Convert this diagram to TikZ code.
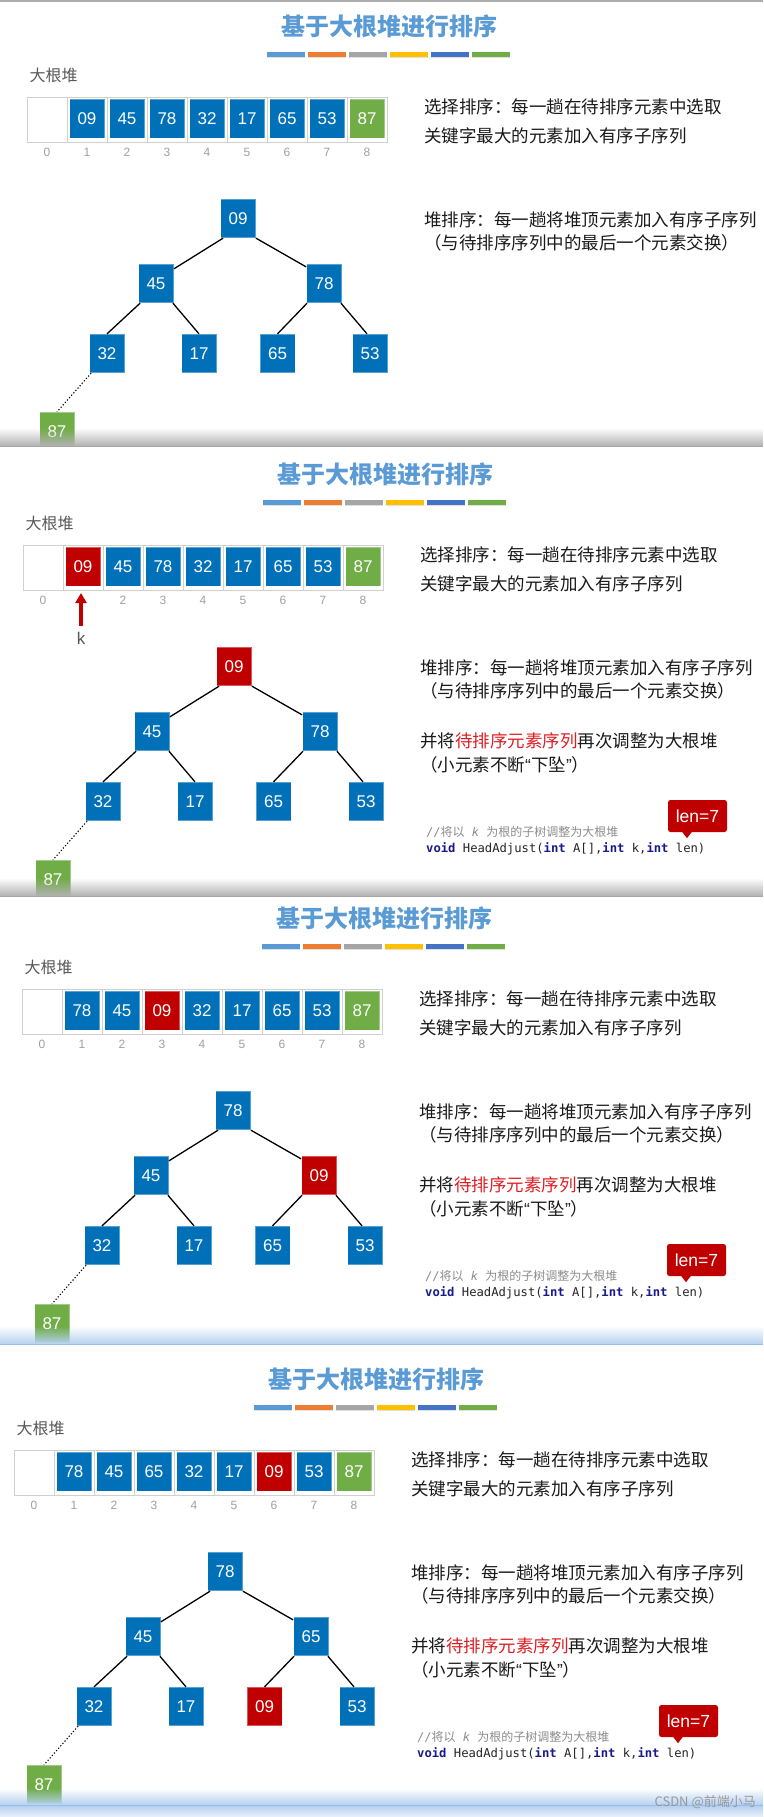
\documentclass[tikz,border=0pt]{standalone}
\usepackage{fontspec}
\setmainfont{Liberation Sans}
\setmonofont{DejaVu Sans Mono}
\newfontfamily\cjk{Noto Sans CJK SC}
\newfontfamily\latq{Liberation Sans}
\usetikzlibrary{arrows.meta,fadings}
\definecolor{hblue}{RGB}{0,112,184}
\definecolor{hred}{RGB}{192,0,0}
\definecolor{hgreen}{RGB}{112,173,71}
\definecolor{titleblue}{RGB}{91,155,213}
\definecolor{barorange}{RGB}{237,125,49}
\definecolor{bargray}{RGB}{165,165,165}
\definecolor{baryellow}{RGB}{255,192,0}
\definecolor{bardblue}{RGB}{68,114,196}
\definecolor{idxgray}{RGB}{160,160,160}
\definecolor{labgray}{RGB}{89,89,89}
\definecolor{txt}{RGB}{26,26,26}
\definecolor{hitxt}{RGB}{220,30,35}
\definecolor{kw}{RGB}{25,25,140}
\definecolor{cmt}{RGB}{140,140,140}
\definecolor{gridc}{RGB}{208,208,208}
\definecolor{sepblue}{RGB}{150,190,235}

\newcommand\hpbase[1]{%
  \node[titlef] (#1-title) at (362,-71) {基于大根堆进行排序};
  \foreach \i/\cl in {0/titleblue,1/barorange,2/bargray,3/baryellow,4/bardblue,5/hgreen}{
    \fill[black!12] (240+41*\i,-40) rectangle ++(37.5,1.2);
    \fill[\cl] (240+41*\i,-45) rectangle ++(37.5,5);
  }
  \node[labf] (#1-lab) at (2.5,-22) {大根堆};
  \draw[gridl] (0,0) rectangle (360,45);
  \foreach \i in {1,...,8} \draw[gridl] (40*\i,0) -- (40*\i,45);
  \node[txtf] (#1-s1) at (397,10) {选择排序：每一趟在待排序元素中选取};
  \node[txtf] (#1-s2) at (397,38.5) {关键字最大的元素加入有序子序列};
  \node[txtf] (#1-h1) at (397,122.5) {堆排序：每一趟将堆顶元素加入有序子序列};
  \node[txtf] (#1-h2) at (397,146) {（与待排序序列中的最后一个元素交换）};
}
\newcommand\hpextra[1]{%
  \node[txtf] (#1-b1) at (397,196) {并将\textcolor{hitxt}{待排序元素序列}再次调整为大根堆};
  \node[txtf] (#1-b2) at (397,219.5) {（小元素不断{\latq “}下坠{\latq ”}）};
  \node[cmtf] (#1-cm) at (403,287) {//{\cjk 将以} \textit{k} {\cjk 为根的子树调整为大根堆}};
  \node[codef] (#1-code) at (403,304) {\textcolor{kw}{\bfseries void} HeadAdjust(\textcolor{kw}{\bfseries int} A[],\textcolor{kw}{\bfseries int} k,\textcolor{kw}{\bfseries int} len)};
  \node[lenbox] (#1-len) at (674.5,271) {len=7};
  \fill[hred] ([xshift=-15.5pt,yshift=0.5pt]#1-len.south) -- ([xshift=-10.5pt,yshift=-6pt]#1-len.south) -- ([xshift=-5.5pt,yshift=0.5pt]#1-len.south) -- cycle;
}
\newcommand\hpidx[2]{\foreach \i in {#2} \node[idxf] (#1-i\i) at (40*\i+20,55) {\i};}
\newcommand\hparr[2]{\foreach \i/\cl/\v in {#2} \node[abox,\cl] (#1-a\i) at (40*\i+20,21.5) {\v};}
\newcommand\hptree[2]{%
  \begin{scope}[shift={(211,121.5)}]
    \foreach \i/\x/\y/\cl/\v in {#2} \node[tbox,\cl] (#1-t\i) at (\x,\y) {\v};
  \end{scope}
  \draw[tedge] ([xshift=3pt]#1-t1.south west) -- ([yshift=-5pt]#1-t2.north east);
  \draw[tedge] (#1-t1.south east) -- ([yshift=-3pt]#1-t3.north west);
  \draw[tedge] ([xshift=2pt]#1-t2.south west) -- (#1-t4.north);
  \draw[tedge] ([xshift=-1pt]#1-t2.south east) -- (#1-t5.north);
  \draw[tedge] ([xshift=1pt]#1-t3.south west) -- (#1-t6.north);
  \draw[tedge] ([xshift=-1pt]#1-t3.south east) -- ([xshift=-3pt]#1-t7.north);
  \draw[dotedge] ([xshift=2pt]#1-t4.south west) -- (#1-t8.north);
}

\begin{document}
\begin{tikzpicture}[x=1pt,y=-1pt,
  titlef/.style={inner sep=0pt, text=titleblue, font=\cjk\bfseries\fontsize{24}{26}\selectfont},
  txtf/.style={anchor=west, inner sep=0pt, text=txt, font=\cjk\fontsize{17.5}{20}\selectfont},
  labf/.style={anchor=west, inner sep=0pt, text=labgray, font=\cjk\fontsize{16}{18}\selectfont},
  idxf/.style={inner sep=0pt, text=idxgray, font=\fontsize{12}{14}\selectfont},
  cmtf/.style={anchor=west, inner sep=0pt, text=cmt, font=\ttfamily\fontsize{12}{14}\selectfont},
  codef/.style={anchor=west, inner sep=0pt, text=black!85, font=\ttfamily\fontsize{12.2}{14}\selectfont},
  gridl/.style={draw=gridc, line width=0.8pt},
  tbox/.style={rectangle, minimum width=35pt, minimum height=38.5pt, inner sep=0pt, text=white, draw=white, draw opacity=0.35, line width=0.8pt, font=\fontsize{17}{17}\selectfont},
  abox/.style={rectangle, minimum width=35pt, minimum height=39pt, inner sep=0pt, text=white, draw=white, draw opacity=0.35, line width=0.8pt, font=\fontsize{17}{17}\selectfont},
  cb/.style={fill=hblue}, cr/.style={fill=hred}, cg/.style={fill=hgreen},
  tedge/.style={draw=black, line width=1.3pt},
  dotedge/.style={draw=black, line width=1.1pt, dash pattern=on 1.2pt off 2pt},
  lenbox/.style={rectangle, rounded corners=2.5pt, fill=hred, text=white, minimum width=59pt, minimum height=32pt, inner sep=0pt, font=\fontsize{17.5}{18}\selectfont},
  kf/.style={inner sep=0pt, text=labgray, font=\fontsize{17}{18}\selectfont},
  wmf/.style={anchor=east, inner sep=0pt, text=black!40, font=\cjk\fontsize{13}{14}\selectfont}
]
\useasboundingbox (0,0) rectangle (763,1817);
\fill[white] (0,0) rectangle (763,1817);

% ---------- Panel 1 ----------
\begin{scope}
\clip (0,0) rectangle (763,446);
\begin{scope}[shift={(27,97)}]
  \hpbase{P1}
  \hpidx{P1}{0,...,8}
  \hparr{P1}{1/cb/09,2/cb/45,3/cb/78,4/cb/32,5/cb/17,6/cb/65,7/cb/53,8/cg/87}
  \hptree{P1}{1/0/0/cb/09,2/-82/65/cb/45,3/86/65/cb/78,4/-131/135/cb/32,5/-39/135/cb/17,6/39.5/135/cb/65,7/132/135/cb/53,8/-181/213/cg/87}
\end{scope}
\end{scope}

% ---------- Panel 2 ----------
\begin{scope}
\clip (0,447) rectangle (763,896);
\begin{scope}[shift={(23,545)}]
  \hpbase{P2}
  \hpidx{P2}{0,2,3,4,5,6,7,8}
  \hparr{P2}{1/cr/09,2/cb/45,3/cb/78,4/cb/32,5/cb/17,6/cb/65,7/cb/53,8/cg/87}
  \hptree{P2}{1/0/0/cr/09,2/-82/65/cb/45,3/86/65/cb/78,4/-131/135/cb/32,5/-39/135/cb/17,6/39.5/135/cb/65,7/132/135/cb/53,8/-181/213/cg/87}
  \hpextra{P2}
  \coordinate (P2-ktip) at (58,48);
  \coordinate (P2-ktail) at (58,81);
  \draw[hred, line width=3.5pt, -{Triangle[width=11pt,length=10pt]}] (P2-ktail) -- (P2-ktip);
  \node[kf] (P2-k) at (58,93) {k};
\end{scope}
\end{scope}

% ---------- Panel 3 ----------
\begin{scope}
\clip (0,897) rectangle (763,1344);
\begin{scope}[shift={(22,989)}]
  \hpbase{P3}
  \hpidx{P3}{0,...,8}
  \hparr{P3}{1/cb/78,2/cb/45,3/cr/09,4/cb/32,5/cb/17,6/cb/65,7/cb/53,8/cg/87}
  \hptree{P3}{1/0/0/cb/78,2/-82/65/cb/45,3/86/65/cr/09,4/-131/135/cb/32,5/-39/135/cb/17,6/39.5/135/cb/65,7/132/135/cb/53,8/-181/213/cg/87}
  \hpextra{P3}
\end{scope}
\end{scope}

% ---------- Panel 4 ----------
\begin{scope}
\clip (0,1345) rectangle (763,1805);
\begin{scope}[shift={(14,1450)}]
  \hpbase{P4}
  \hpidx{P4}{0,...,8}
  \hparr{P4}{1/cb/78,2/cb/45,3/cb/65,4/cb/32,5/cb/17,6/cr/09,7/cb/53,8/cg/87}
  \hptree{P4}{1/0/0/cb/78,2/-82/65/cb/45,3/86/65/cb/65,4/-131/135/cb/32,5/-39/135/cb/17,6/39.5/135/cr/09,7/132/135/cb/53,8/-181/213/cg/87}
  \hpextra{P4}
\end{scope}
\end{scope}

% ---------- separators ----------
\fill[black!32] (0,0) rectangle (763,2);
\fill[black!30, path fading=north] (0,428) rectangle (763,446);
\draw[black!35, line width=1pt] (0,446.5) -- (763,446.5);
\fill[black!30, path fading=north] (0,878) rectangle (763,896);
\draw[black!35, line width=1pt] (0,896.5) -- (763,896.5);
\fill[sepblue!70, path fading=north] (0,1326) rectangle (763,1344);
\draw[sepblue, line width=1pt] (0,1344.5) -- (763,1344.5);
\fill[sepblue!70, path fading=north] (0,1788) rectangle (763,1805);
\shade[top color=sepblue!75, bottom color=sepblue!20] (0,1805) rectangle (763,1817);
\draw[sepblue, line width=1pt] (0,1805.5) -- (763,1805.5);
\node[wmf] (wm) at (756,1802) {CSDN @前端小马};
\end{tikzpicture}
\end{document}
